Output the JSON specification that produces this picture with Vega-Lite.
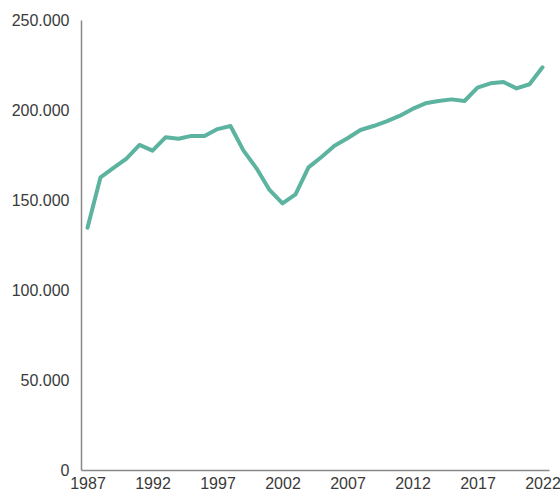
{
  "$schema": "https://vega.github.io/schema/vega-lite/v6.json",
  "width": 468,
  "height": 450,
  "autosize": {"type": "none"},
  "padding": {"left": 81, "top": 20, "right": 11, "bottom": 28},
  "background": "white",
  "config": {
    "view": {"stroke": null},
    "locale": {"number": {"decimal": ",", "thousands": ".", "grouping": [3], "currency": ["", " €"]}},
    "axis": {"labelFont": "Liberation Sans", "labelFontSize": 16, "labelColor": "#3a3a3a", "domainColor": "#888888", "domainWidth": 1.5, "ticks": false, "grid": false, "title": null}
  },
  "data": {"values": [
    {"year": 1987, "value": 134600},
    {"year": 1988, "value": 162600},
    {"year": 1989, "value": 167800},
    {"year": 1990, "value": 173000},
    {"year": 1991, "value": 180600},
    {"year": 1992, "value": 177400},
    {"year": 1993, "value": 184800},
    {"year": 1994, "value": 184000},
    {"year": 1995, "value": 185600},
    {"year": 1996, "value": 185600},
    {"year": 1997, "value": 189400},
    {"year": 1998, "value": 191100},
    {"year": 1999, "value": 177400},
    {"year": 2000, "value": 167600},
    {"year": 2001, "value": 155600},
    {"year": 2002, "value": 148100},
    {"year": 2003, "value": 153100},
    {"year": 2004, "value": 168100},
    {"year": 2005, "value": 173900},
    {"year": 2006, "value": 180200},
    {"year": 2007, "value": 184300},
    {"year": 2008, "value": 188900},
    {"year": 2009, "value": 191100},
    {"year": 2010, "value": 193700},
    {"year": 2011, "value": 196700},
    {"year": 2012, "value": 200600},
    {"year": 2013, "value": 203700},
    {"year": 2014, "value": 205000},
    {"year": 2015, "value": 205900},
    {"year": 2016, "value": 205000},
    {"year": 2017, "value": 212400},
    {"year": 2018, "value": 214800},
    {"year": 2019, "value": 215600},
    {"year": 2020, "value": 212000},
    {"year": 2021, "value": 214300},
    {"year": 2022, "value": 223700}
  ]},
  "mark": {"type": "line", "color": "#5cb3a0", "strokeWidth": 4, "strokeJoin": "round", "strokeCap": "round"},
  "encoding": {
    "x": {
      "field": "year", "type": "ordinal",
      "scale": {"type": "point", "padding": 0.5},
      "axis": {"values": [1987, 1992, 1997, 2002, 2007, 2012, 2017, 2022], "labelAngle": 0, "labelPadding": 5}
    },
    "y": {
      "field": "value", "type": "quantitative",
      "scale": {"domain": [0, 250000], "nice": false},
      "axis": {"values": [0, 50000, 100000, 150000, 200000, 250000], "format": ",d", "labelPadding": 12}
    }
  }
}
